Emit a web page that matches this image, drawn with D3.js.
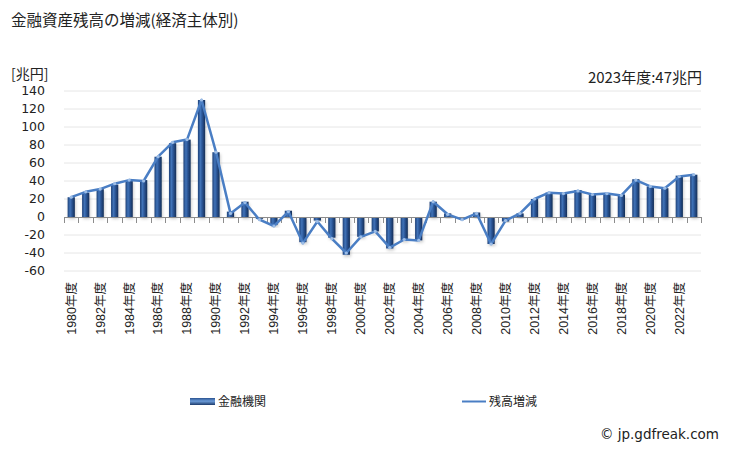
<!DOCTYPE html>
<html><head><meta charset="utf-8">
<script src="https://cdn.jsdelivr.net/npm/d3@7"></script>
<style>
html,body{margin:0;padding:0;background:#fff;}
svg{display:block;}
.jp{font-family:"Noto Sans CJK JP","Noto Sans",sans-serif;}
.xl{font-family:"Liberation Sans",Arial,"Noto Sans CJK JP",sans-serif;}
</style></head>
<body>
<svg id="chart" width="729" height="450"></svg>
<script>
const years = [1980,1981,1982,1983,1984,1985,1986,1987,1988,1989,1990,1991,1992,1993,1994,1995,1996,1997,1998,1999,2000,2001,2002,2003,2004,2005,2006,2007,2008,2009,2010,2011,2012,2013,2014,2015,2016,2017,2018,2019,2020,2021,2022,2023];
const banks = [22,27,31,36,41,41,67,82,86,130,72,6,17,-2,-9,7,-28,-4,-23,-42,-22,-16,-35,-26,-26,17,4,-2,5,-30,-5,4,20,27,26,30,25,26,25,42,34,32,46,47];
const totals = [22,28,31,37,41,40,67,83,86,130,72,4,16,-3,-10,6,-29,-5,-24,-40,-22,-16,-34,-25,-26,17,3,-3,4,-30,-4,4,20,27,26,29,25,26,24,41,34,32,45,47];
const yTicks = [-60,-40,-20,0,20,40,60,80,100,120,140];
const title = "金融資産残高の増減(経済主体別)";
const unitLabel = "[兆円]";
const note = "2023年度:47兆円";
const seriesNames = ["金融機関","残高増減"];
const credit = "© jp.gdfreak.com";

const svg = d3.select("#chart");
const left = 64, right = 701;
const x = d3.scaleBand().domain(years).range([left,right]).paddingInner(0.5).paddingOuter(0.25);
const y = d3.scaleLinear().domain([-60,140]).range([271,91]);

const defs = svg.append("defs");
const g = defs.append("linearGradient").attr("id","barGrad").attr("x1","0").attr("x2","1").attr("y1","0").attr("y2","0");
g.append("stop").attr("offset","0%").attr("stop-color","#1f4178");
g.append("stop").attr("offset","35%").attr("stop-color","#4073b8");
g.append("stop").attr("offset","60%").attr("stop-color","#2a5494");
g.append("stop").attr("offset","100%").attr("stop-color","#152e56");
const lg = defs.append("linearGradient").attr("id","legGrad").attr("x1","0").attr("x2","0").attr("y1","0").attr("y2","1");
lg.append("stop").attr("offset","0%").attr("stop-color","#2a5290");
lg.append("stop").attr("offset","45%").attr("stop-color","#6b9bd8");
lg.append("stop").attr("offset","100%").attr("stop-color","#1d3b6b");
const f = defs.append("filter").attr("id","shadow").attr("x","-50%").attr("y","-20%").attr("width","200%").attr("height","150%");
f.append("feDropShadow").attr("dx",1).attr("dy",2).attr("stdDeviation",1.5).attr("flood-color","#000").attr("flood-opacity",0.2);

// title
svg.append("text").attr("class","jp").attr("x",11).attr("y",26).attr("font-size",15.5).attr("fill","#222").text(title);
svg.append("text").attr("class","jp").attr("x",11).attr("y",79).attr("font-size",14).attr("fill","#222").text(unitLabel);
svg.append("text").attr("class","jp").attr("x",702).attr("y",83).attr("text-anchor","end").attr("font-size",15).attr("fill","#222").text(note);

// grid
svg.append("g").selectAll("line").data(yTicks.filter(d=>d!==0)).join("line")
  .attr("x1",left).attr("x2",right).attr("y1",d=>y(d)).attr("y2",d=>y(d))
  .attr("stroke","#e6e6e6").attr("stroke-width",1);

// y labels
svg.append("g").selectAll("text").data(yTicks).join("text")
  .attr("x",45).attr("y",d=>y(d)).attr("dy","0.35em").attr("text-anchor","end")
  .attr("font-family","DejaVu Sans, Verdana, sans-serif").attr("font-size",12.5).attr("fill","#222")
  .text(d=>d);

// bars
svg.append("g").selectAll("rect").data(years).join("rect")
  .attr("x",d=>x(d)).attr("width",x.bandwidth())
  .attr("y",(d,i)=>y(Math.max(0,banks[i])))
  .attr("height",(d,i)=>Math.abs(y(banks[i])-y(0)))
  .attr("fill","url(#barGrad)").attr("filter","url(#shadow)");

// zero axis
svg.append("line").attr("x1",left).attr("x2",right).attr("y1",y(0)+0.5).attr("y2",y(0)+0.5).attr("stroke","#8c8c8c").attr("stroke-width",1);
const tickXs = years.map(d=>x(d)-x.step()*x.paddingInner()/2).concat([right]);
svg.append("g").selectAll("line").data(tickXs).join("line")
  .attr("x1",d=>Math.round(d)+0.5).attr("x2",d=>Math.round(d)+0.5).attr("y1",y(0)).attr("y2",y(0)+6)
  .attr("stroke","#8c8c8c").attr("stroke-width",1);

// line
const line = d3.line().x((d,i)=>x(years[i])+x.bandwidth()/2).y(d=>y(d));
svg.append("path").datum(totals).attr("d",line).attr("fill","none").attr("stroke","#4a7ec4").attr("stroke-width",2.5).attr("stroke-linejoin","round");
svg.append("g").selectAll("circle").data(totals).join("circle")
  .attr("cx",(d,i)=>x(years[i])+x.bandwidth()/2).attr("cy",d=>y(d)).attr("r",1.6)
  .attr("fill","#9dbde6");

// x labels
svg.append("g").selectAll("text").data(years.filter((d,i)=>i%2===0)).join("text")
  .attr("class","xl")
  .attr("transform",d=>`translate(${x(d)+x.bandwidth()/2},282) rotate(-90)`)
  .attr("dy","0.35em").attr("text-anchor","end").attr("font-size",12.5).attr("fill","#222")
  .text(d=>d+"年度");

// legend
svg.append("rect").attr("x",190).attr("y",398).attr("width",25).attr("height",7).attr("fill","url(#legGrad)");
svg.append("text").attr("class","jp").attr("x",218).attr("y",401.5).attr("dy","0.35em").attr("font-size",12).attr("fill","#222").text(seriesNames[0]);
svg.append("line").attr("x1",462).attr("x2",486).attr("y1",401.5).attr("y2",401.5).attr("stroke","#4a7ec4").attr("stroke-width",2);
svg.append("text").attr("class","jp").attr("x",489).attr("y",401.5).attr("dy","0.35em").attr("font-size",12).attr("fill","#222").text(seriesNames[1]);

svg.append("text").attr("x",719).attr("y",439).attr("text-anchor","end").attr("font-family","DejaVu Sans, Verdana, sans-serif").attr("font-size",13.5).attr("fill","#222").text(credit);
</script>
</body></html>
